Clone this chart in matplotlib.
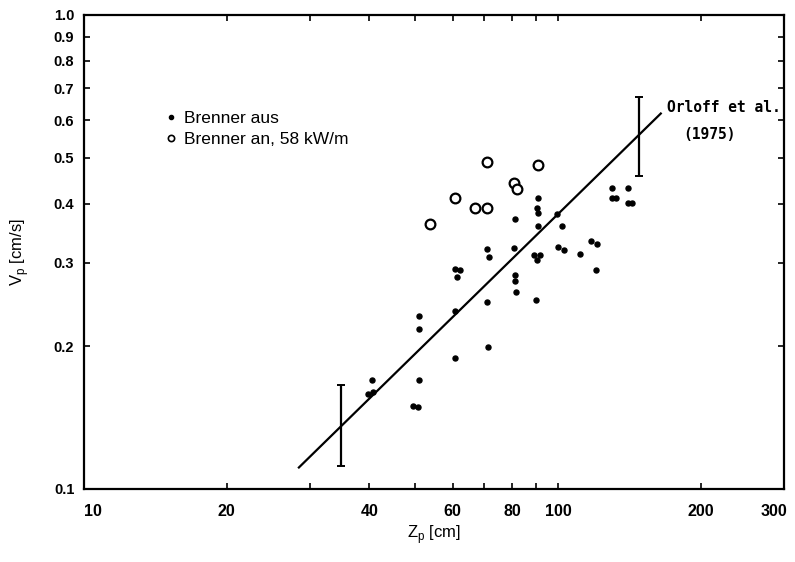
import matplotlib
matplotlib.use("Agg")
import matplotlib.pyplot as plt
from matplotlib.lines import Line2D
from matplotlib.transforms import ScaledTranslation
import numpy as np

plt.rcParams["font.family"] = ["Liberation Sans", "DejaVu Sans"]
plt.rcParams["mathtext.fontset"] = "custom"
plt.rcParams["mathtext.rm"] = "Liberation Sans"

# Brenner aus (burner off)
z_off = [90.6, 90.3, 90.6, 81.2, 90.9, 102.1, 99.4,
         130.2, 140.7, 130.2, 132.9, 140.7, 143.4,
         70.7, 71.5, 80.9, 100.1, 103.0, 117.4, 120.7, 111.3, 120.3,
         89.1, 91.6, 90.2, 60.8, 62.1, 61.1, 81.2, 81.2, 81.5,
         90.0, 70.8, 60.7, 50.9, 50.9, 71.1, 60.7, 50.9, 49.5, 50.7,
         40.5, 39.8, 40.7]
v_off = [0.411, 0.391, 0.382, 0.371, 0.359, 0.359, 0.380,
         0.431, 0.431, 0.412, 0.412, 0.402, 0.402,
         0.321, 0.309, 0.322, 0.324, 0.319, 0.334, 0.329, 0.313, 0.290,
         0.311, 0.311, 0.304, 0.291, 0.290, 0.280, 0.283, 0.275, 0.260,
         0.250, 0.248, 0.237, 0.232, 0.218, 0.199, 0.189, 0.170, 0.150, 0.149,
         0.170, 0.159, 0.160]

# Brenner an, 58 kW/m (burner on)
z_on = [70.7, 90.6, 80.9, 81.8, 60.8, 66.8, 70.7, 53.8]
v_on = [0.490, 0.483, 0.443, 0.430, 0.411, 0.392, 0.392, 0.362]

# Orloff et al. (1975) correlation and its scatter band
z_line = [28.3, 165.5]
v_line = [0.1106, 0.622]
z_err = [34.8, 148.4]
v_err_mid = [0.1353, 0.55]
v_err_lo = [0.1118, 0.4575]
v_err_hi = [0.1657, 0.672]

x_ticks = [10, 20, 30, 40, 50, 60, 70, 80, 90, 100, 200, 300]
x_labels = ["10", "20", "", "40", "", "60", "", "80", "", "100", "200", "300"]
y_ticks = [0.1, 0.2, 0.3, 0.4, 0.5, 0.6, 0.7, 0.8, 0.9, 1.0]

fig = plt.figure(figsize=(7.95, 5.62), dpi=100)
ax = fig.add_axes([84 / 795, 73 / 562, 700 / 795, 474 / 562])
ax.set_xscale("log")
ax.set_yscale("log")
ax.set_xlim(10, 300)
ax.set_ylim(0.1, 1.0)

ax.plot(z_line, v_line, color="black", lw=1.6, solid_capstyle="butt")
lo = np.array(v_err_mid) - np.array(v_err_lo)
hi = np.array(v_err_hi) - np.array(v_err_mid)
ax.errorbar(z_err, v_err_mid, yerr=[lo, hi], fmt="none", ecolor="black",
            elinewidth=1.6, capsize=3, capthick=1.4)

ax.plot(z_off, v_off, "o", color="black", ms=3.6, ls="none")
ax.plot(z_on, v_on, "o", mfc="white", mec="black", mew=1.6, ms=7, ls="none")

ax.text(0.833, 0.804, "Orloff et al.", transform=ax.transAxes, ha="left",
        va="center", fontsize=10.5, fontweight="bold",
        family="DejaVu Sans Mono")
ax.text(0.894, 0.747, "(1975)", transform=ax.transAxes, ha="center",
        va="center", fontsize=10.5, fontweight="bold",
        family="DejaVu Sans Mono")

handles = [
    Line2D([], [], marker="o", color="black", ms=3, ls="none"),
    Line2D([], [], marker="o", mfc="white", mec="black", mew=1.2, ms=4.5, ls="none"),
]
ax.legend(handles, ["Brenner aus", "Brenner an, 58 kW/m"], loc="upper left",
          bbox_to_anchor=((166 - 84) / 700, (489 - 111) / 474), frameon=False,
          fontsize=12.5, handlelength=0.6, handletextpad=0.45, borderpad=0,
          borderaxespad=0, labelspacing=0.35)

ax.set_xticks(x_ticks)
ax.set_xticklabels(x_labels)
ax.xaxis.set_minor_locator(matplotlib.ticker.NullLocator())
ax.set_yticks(y_ticks)
ax.set_yticklabels([f"{v:.1f}" for v in y_ticks])
ax.yaxis.set_minor_locator(matplotlib.ticker.NullLocator())
ax.tick_params(axis="both", which="major", direction="in", length=4, width=1.2,
               top=True, right=True)
ax.tick_params(axis="x", pad=11, labelsize=11.5)
ax.tick_params(axis="y", pad=7, labelsize=10.5)
for lab in ax.get_xticklabels() + ax.get_yticklabels():
    lab.set_fontweight("bold")
for sp in ax.spines.values():
    sp.set_linewidth(1.6)

# first and last x labels sit slightly inside the frame, as in the original
xlabs = ax.get_xticklabels()
xlabs[0].set_transform(xlabs[0].get_transform()
                       + ScaledTranslation(0.09, 0, fig.dpi_scale_trans))
xlabs[-1].set_transform(xlabs[-1].get_transform()
                        + ScaledTranslation(-0.10, 0, fig.dpi_scale_trans))

ax.set_xlabel(r"Z$_\mathrm{p}$ [cm]", fontsize=12, labelpad=3)
ax.set_ylabel(r"V$_\mathrm{p}$ [cm/s]", fontsize=12, labelpad=16)

fig.savefig("out.png", dpi=100)
